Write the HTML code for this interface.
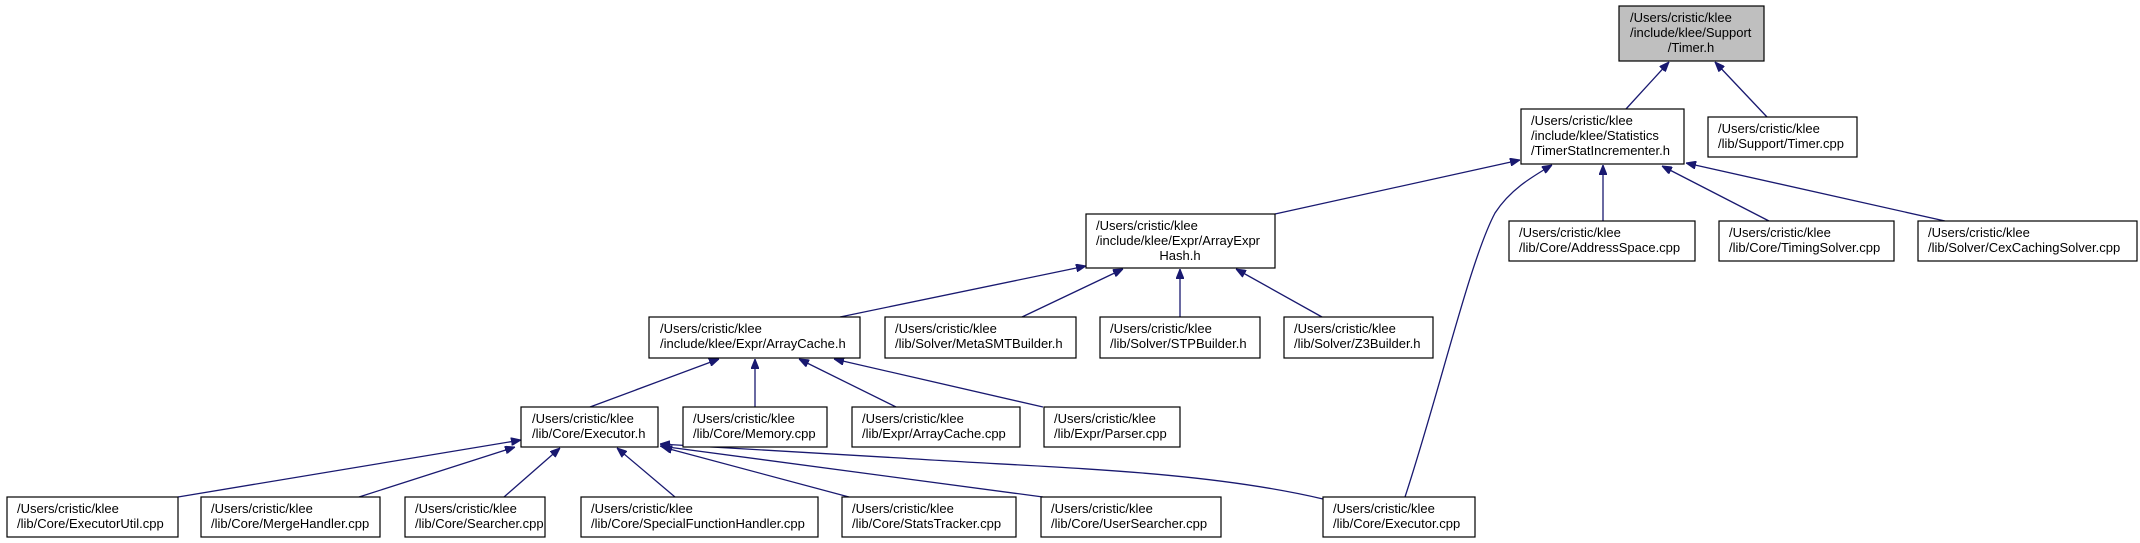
<!DOCTYPE html>
<html><head><meta charset="utf-8"><style>
html,body{margin:0;padding:0;background:#fff;}
svg{display:block;}
text{font-family:"Liberation Sans",Arial,sans-serif;font-size:13px;fill:#000;}
.b{fill:#fff;stroke:#000;stroke-width:1.2;}
.e{stroke:#191970;stroke-width:1.3;fill:none;}
</style></head><body>
<svg width="2140" height="543" viewBox="0 0 2140 543" xmlns="http://www.w3.org/2000/svg">
<defs>
<marker id="a" viewBox="0 0 10 8" refX="10" refY="4" markerWidth="10" markerHeight="8" markerUnits="userSpaceOnUse" orient="auto">
<path d="M0,0 L10,4 L0,8 z" fill="#191970" stroke="#191970"/>
</marker>
</defs>
<g class="e" marker-end="url(#a)">
<line x1="1626" y1="109" x2="1669" y2="62"/>
<line x1="1767" y1="117" x2="1715" y2="62"/>
<line x1="1275" y1="214" x2="1520" y2="160"/>
<path d="M1405,497 C1440,390 1470,260 1495,213 C1510,190 1530,178 1552,165"/>
<line x1="1603" y1="221" x2="1603" y2="165"/>
<line x1="1769" y1="221" x2="1662" y2="166"/>
<line x1="1945" y1="221" x2="1686" y2="163"/>
<line x1="840" y1="317" x2="1086" y2="266"/>
<line x1="1022" y1="317" x2="1123" y2="269"/>
<line x1="1180" y1="317" x2="1180" y2="269"/>
<line x1="1322" y1="317" x2="1236" y2="269"/>
<line x1="590" y1="407" x2="719" y2="359"/>
<line x1="755" y1="407" x2="755" y2="359"/>
<line x1="896" y1="407" x2="799" y2="359"/>
<line x1="1043" y1="407" x2="834" y2="359"/>
<line x1="178" y1="497" x2="521" y2="440"/>
<line x1="359" y1="497" x2="515" y2="447"/>
<line x1="504" y1="497" x2="560" y2="448"/>
<line x1="675" y1="497" x2="617" y2="448"/>
<line x1="849" y1="497" x2="662" y2="447"/>
<line x1="1043" y1="497" x2="660" y2="446"/>
<path d="M1323,499 C1200,470 1050,468 900,458 C800,452 720,448 660,444"/>
</g>
<rect x="1619" y="6" width="145" height="55" fill="#bfbfbf" stroke="#000" stroke-width="1.2"/>
<text x="1630" y="22">/Users/cristic/klee</text><text x="1630" y="37">/include/klee/Support</text><text x="1691" y="52" text-anchor="middle">/Timer.h</text>
<rect class="b" x="1521" y="109" width="163" height="55"/>
<text x="1531" y="125">/Users/cristic/klee</text><text x="1531" y="140">/include/klee/Statistics</text><text x="1531" y="155">/TimerStatIncrementer.h</text>
<rect class="b" x="1708" y="117" width="149" height="40"/>
<text x="1718" y="133">/Users/cristic/klee</text><text x="1718" y="148">/lib/Support/Timer.cpp</text>
<rect class="b" x="1086" y="214" width="189" height="54"/>
<text x="1096" y="230">/Users/cristic/klee</text><text x="1096" y="245">/include/klee/Expr/ArrayExpr</text><text x="1180" y="260" text-anchor="middle">Hash.h</text>
<rect class="b" x="1509" y="221" width="186" height="40"/>
<text x="1519" y="237">/Users/cristic/klee</text><text x="1519" y="252">/lib/Core/AddressSpace.cpp</text>
<rect class="b" x="1719" y="221" width="175" height="40"/>
<text x="1729" y="237">/Users/cristic/klee</text><text x="1729" y="252">/lib/Core/TimingSolver.cpp</text>
<rect class="b" x="1918" y="221" width="219" height="40"/>
<text x="1928" y="237">/Users/cristic/klee</text><text x="1928" y="252">/lib/Solver/CexCachingSolver.cpp</text>
<rect class="b" x="649" y="317" width="211" height="41"/>
<text x="660" y="333">/Users/cristic/klee</text><text x="660" y="348">/include/klee/Expr/ArrayCache.h</text>
<rect class="b" x="885" y="317" width="191" height="41"/>
<text x="895" y="333">/Users/cristic/klee</text><text x="895" y="348">/lib/Solver/MetaSMTBuilder.h</text>
<rect class="b" x="1100" y="317" width="160" height="41"/>
<text x="1110" y="333">/Users/cristic/klee</text><text x="1110" y="348">/lib/Solver/STPBuilder.h</text>
<rect class="b" x="1284" y="317" width="149" height="41"/>
<text x="1294" y="333">/Users/cristic/klee</text><text x="1294" y="348">/lib/Solver/Z3Builder.h</text>
<rect class="b" x="521" y="407" width="137" height="40"/>
<text x="532" y="423">/Users/cristic/klee</text><text x="532" y="438">/lib/Core/Executor.h</text>
<rect class="b" x="683" y="407" width="144" height="40"/>
<text x="693" y="423">/Users/cristic/klee</text><text x="693" y="438">/lib/Core/Memory.cpp</text>
<rect class="b" x="852" y="407" width="168" height="40"/>
<text x="862" y="423">/Users/cristic/klee</text><text x="862" y="438">/lib/Expr/ArrayCache.cpp</text>
<rect class="b" x="1044" y="407" width="136" height="40"/>
<text x="1054" y="423">/Users/cristic/klee</text><text x="1054" y="438">/lib/Expr/Parser.cpp</text>
<rect class="b" x="7" y="497" width="171" height="40"/>
<text x="17" y="513">/Users/cristic/klee</text><text x="17" y="528">/lib/Core/ExecutorUtil.cpp</text>
<rect class="b" x="201" y="497" width="179" height="40"/>
<text x="211" y="513">/Users/cristic/klee</text><text x="211" y="528">/lib/Core/MergeHandler.cpp</text>
<rect class="b" x="405" y="497" width="140" height="40"/>
<text x="415" y="513">/Users/cristic/klee</text><text x="415" y="528">/lib/Core/Searcher.cpp</text>
<rect class="b" x="581" y="497" width="237" height="40"/>
<text x="591" y="513">/Users/cristic/klee</text><text x="591" y="528">/lib/Core/SpecialFunctionHandler.cpp</text>
<rect class="b" x="842" y="497" width="174" height="40"/>
<text x="852" y="513">/Users/cristic/klee</text><text x="852" y="528">/lib/Core/StatsTracker.cpp</text>
<rect class="b" x="1041" y="497" width="180" height="40"/>
<text x="1051" y="513">/Users/cristic/klee</text><text x="1051" y="528">/lib/Core/UserSearcher.cpp</text>
<rect class="b" x="1323" y="497" width="152" height="40"/>
<text x="1333" y="513">/Users/cristic/klee</text><text x="1333" y="528">/lib/Core/Executor.cpp</text>
</svg>
</body></html>
